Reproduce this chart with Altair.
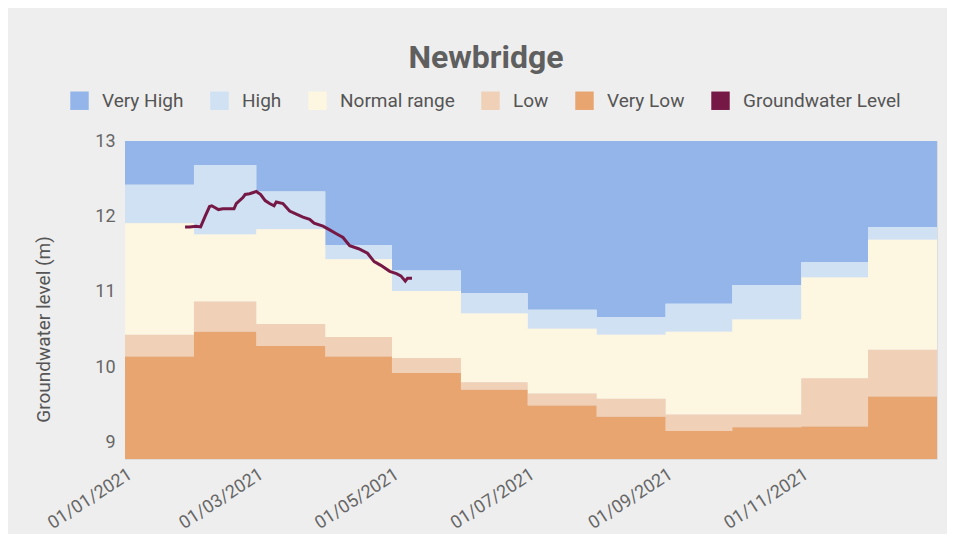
import altair as alt
import pandas as pd

# Monthly band boundaries (lower edge of each band), Jan..Dec 2021
months = ["2021-01-01", "2021-02-01", "2021-03-01", "2021-04-01", "2021-05-01", "2021-06-01",
          "2021-07-01", "2021-08-01", "2021-09-01", "2021-10-01", "2021-11-01", "2021-12-01"]
month_end = "2022-01-01"
very_high_lower = [12.42, 12.68, 12.33, 11.62, 11.28, 10.98, 10.76, 10.66, 10.84, 11.09, 11.39, 11.86]
high_lower = [11.91, 11.76, 11.83, 11.43, 11.01, 10.71, 10.51, 10.43, 10.47, 10.63, 11.19, 11.69]
normal_lower = [10.43, 10.87, 10.57, 10.40, 10.12, 9.80, 9.65, 9.58, 9.37, 9.37, 9.85, 10.23]
low_lower = [10.14, 10.47, 10.28, 10.14, 9.92, 9.70, 9.49, 9.34, 9.15, 9.20, 9.21, 9.61]
y_min, y_max = 8.78, 13.0

gw_dates = ["2021-01-28", "2021-01-30", "2021-02-02", "2021-02-04", "2021-02-06", "2021-02-08",
            "2021-02-09", "2021-02-12", "2021-02-14", "2021-02-17", "2021-02-19", "2021-02-20",
            "2021-02-23", "2021-02-24", "2021-02-26", "2021-03-01", "2021-03-03", "2021-03-05",
            "2021-03-07", "2021-03-09", "2021-03-10", "2021-03-13", "2021-03-16", "2021-03-19",
            "2021-03-22", "2021-03-25", "2021-03-27", "2021-03-31", "2021-04-03", "2021-04-06",
            "2021-04-09", "2021-04-12", "2021-04-16", "2021-04-20", "2021-04-23", "2021-04-26",
            "2021-04-30", "2021-05-03", "2021-05-05", "2021-05-07", "2021-05-08", "2021-05-10"]
gw_levels = [11.86, 11.86, 11.87, 11.86, 12.00, 12.13, 12.14, 12.09, 12.10, 12.10, 12.10, 12.17,
             12.25, 12.29, 12.30, 12.33, 12.29, 12.21, 12.17, 12.14, 12.19, 12.17, 12.07, 12.03,
             11.99, 11.96, 11.91, 11.87, 11.82, 11.77, 11.72, 11.61, 11.57, 11.51, 11.40, 11.35,
             11.27, 11.24, 11.21, 11.14, 11.18, 11.18]

categories = ["Very High", "High", "Normal range", "Low", "Very Low", "Groundwater Level"]
colors = ["#94b5ea", "#cfe1f3", "#fdf6e1", "#f0d0b6", "#e8a570", "#761846"]

dates = months + [month_end]
def ext(v):
    return v + [v[-1]]

bands = {
    "Very High": (ext(very_high_lower), [y_max] * 13),
    "High": (ext(high_lower), ext(very_high_lower)),
    "Normal range": (ext(normal_lower), ext(high_lower)),
    "Low": (ext(low_lower), ext(normal_lower)),
    "Very Low": ([y_min] * 13, ext(low_lower)),
}
rows = []
for name, (lo, hi) in bands.items():
    for d, a, b in zip(dates, lo, hi):
        rows.append({"date": d + "T00:00:00", "lo": a, "hi": b, "band": name})
band_df = pd.DataFrame(rows)
gw_df = pd.DataFrame({"date": [d + "T00:00:00" for d in gw_dates], "level": gw_levels})

font = "Roboto"
tick_vals = [alt.DateTime(year=2021, month=m, date=1) for m in [1, 3, 5, 7, 9, 11]]
x_scale = alt.Scale(domain=[alt.DateTime(year=2021, month=1, date=1),
                            alt.DateTime(year=2022, month=1, date=1)], nice=False)
y_scale = alt.Scale(domain=[y_min, y_max], nice=False, zero=False)

areas = alt.Chart(band_df).mark_area(interpolate="step-after", opacity=1).encode(
    x=alt.X("date:T", scale=x_scale,
            axis=alt.Axis(values=tick_vals, format="%d/%m/%Y", labelAngle=-33, title=None,
                          grid=False, ticks=False, domain=False, labelFontSize=18,
                          labelColor="#666666", labelFont=font, labelPadding=6)),
    y=alt.Y("lo:Q", scale=y_scale,
            axis=alt.Axis(values=[9, 10, 11, 12, 13], format="d", title="Groundwater level (m)",
                          grid=False, ticks=False, domain=False, labelFontSize=18,
                          labelColor="#666666", labelFont=font, labelPadding=10,
                          titleFontSize=19, titleFont=font, titleFontWeight="normal",
                          titleColor="#555555", titleX=-76, titleY=188,
                          titleBaseline="alphabetic", titleAlign="center")),
    y2="hi:Q",
    color=alt.Color("band:N", scale=alt.Scale(domain=categories, range=colors),
                    legend=alt.Legend(title=None, orient="none", direction="horizontal",
                                      legendX=-55, legendY=-50, symbolType="square",
                                      symbolSize=340, symbolStrokeWidth=0,
                                      labelFontSize=19, labelColor="#555555",
                                      labelFont=font, columnPadding=26, labelOffset=13,
                                      symbolOpacity=1)),
)

line = alt.Chart(gw_df).mark_line(strokeWidth=3, color="#761846").encode(
    x="date:T",
    y="level:Q",
)

chart = alt.layer(areas, line).properties(
    width=812, height=318,
    title=alt.TitleParams("Newbridge", fontSize=32, fontWeight="bold", color="#5f5f5f",
                          font=font, anchor="middle", dx=-45, offset=16),
    autosize=alt.AutoSizeParams(type="none"),
    padding={"left": 117, "top": 133, "right": 10, "bottom": 75},
    background="#eeeeee",
).configure_view(stroke="#dddddd", strokeWidth=1)

chart.save("out.html", embed_options={"renderer": "svg", "actions": False})
